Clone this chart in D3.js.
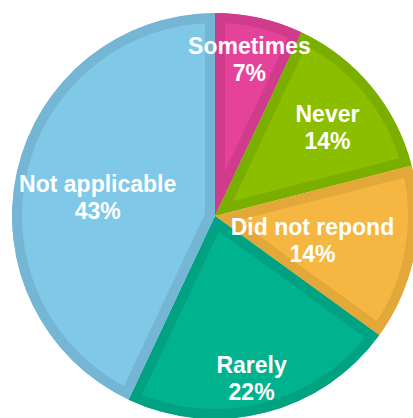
<!DOCTYPE html>
<html>
<head>
<meta charset="utf-8">
<script src="https://d3js.org/d3.v7.min.js"></script>
<style>
  html, body { margin: 0; padding: 0; background: #fff; overflow: hidden; }
  svg { display: block; }
</style>
</head>
<body>
<script>
// Survey responses, clockwise from 12 o'clock
const categories = ["Sometimes", "Never", "Did not repond", "Rarely", "Not applicable"];
const percents = [7, 14, 14, 22, 43];

// Slice fill and rim colours
const fills = ["#E5439A", "#8CBE00", "#F5B742", "#00B28D", "#7FC8E8"];
const rims  = ["#D13B8C", "#7AAF00", "#E2A83A", "#00A282", "#75B6D5"];

// Label placement: fraction of radius, and angular nudge in degrees
const labelRadius = [0.79, 0.705, 0.495, 0.82, 0.585];
const labelNudge  = [-0.2, 1.4, 3.3, 1.7, -3.6];

const W = 413, H = 418;
const cx = 215, cy = 216, R = 203;
const rimWidth = 10;

const svg = d3.select("body").append("svg")
  .attr("width", W).attr("height", H);

const pie = d3.pie().sort(null).value(d => d.value);
const arcs = pie(categories.map((c, i) => ({ name: c, value: percents[i], i })));
const arc = d3.arc().innerRadius(0).outerRadius(R);

const defs = svg.append("defs");
const g = svg.append("g").attr("transform", `translate(${cx},${cy})`);

// Clip each wedge to its own outline so the rim stays inside it
arcs.forEach((a, i) => {
  defs.append("clipPath").attr("id", "slice-clip-" + i)
    .append("path").attr("d", arc(a));
});

g.selectAll("path.slice")
  .data(arcs)
  .join("path")
  .attr("class", "slice")
  .attr("d", arc)
  .attr("fill", d => fills[d.data.i])
  .attr("stroke", d => rims[d.data.i])
  .attr("stroke-width", rimWidth * 2)
  .attr("stroke-linejoin", "miter")
  .attr("clip-path", d => `url(#slice-clip-${d.data.i})`);

// Labels: category name and percentage, white bold
const fmt = v => d3.format("d")(v) + "%";
const labels = g.selectAll("g.label")
  .data(arcs)
  .join("g")
  .attr("class", "label")
  .attr("transform", d => {
    const mid = (d.startAngle + d.endAngle) / 2 + labelNudge[d.data.i] * Math.PI / 180;
    const r = R * labelRadius[d.data.i];
    return `translate(${r * Math.sin(mid)},${-r * Math.cos(mid)})`;
  });

labels.append("text")
  .attr("text-anchor", "middle")
  .attr("font-family", "'Liberation Sans', Arial, sans-serif")
  .attr("font-weight", "bold")
  .attr("font-size", 23)
  .attr("fill", "#fff")
  .selectAll("tspan")
  .data(d => [d.data.name, fmt(d.data.value)])
  .join("tspan")
  .attr("x", 0)
  .attr("y", (t, j) => j === 0 ? -5.5 : 21.5)
  .text(t => t);
</script>
</body>
</html>
